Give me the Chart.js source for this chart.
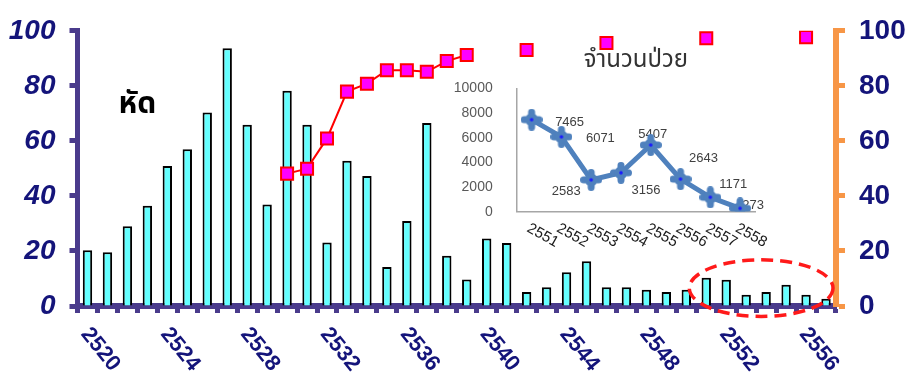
<!DOCTYPE html>
<html>
<head>
<meta charset="utf-8">
<script src="https://cdn.jsdelivr.net/npm/chart.js@4/dist/chart.umd.min.js"></script>
<style>
  html, body { margin: 0; padding: 0; background: #ffffff; }
  #wrap { position: relative; width: 911px; height: 382px; overflow: hidden; }
  #main { position: absolute; left: 0; top: 0; }
  #inset { position: absolute; left: 430px; top: 40px; }
</style>
</head>
<body>
<div id="wrap">
  <canvas id="main" width="911" height="382"></canvas>
  <canvas id="inset" width="350" height="215"></canvas>
</div>
<script>
// Years (Buddhist era) on the main category axis
const years = ['2520','2521','2522','2523','2524','2525','2526','2527','2528','2529',
               '2530','2531','2532','2533','2534','2535','2536','2537','2538','2539',
               '2540','2541','2542','2543','2544','2545','2546','2547','2548','2549',
               '2550','2551','2552','2553','2554','2555','2556','2557'];

// Measles rate (bars, left axis)
const measlesRate = [20.3, 19.5, 29.0, 36.4, 50.9, 57.0, 70.3, 93.7, 65.9, 36.9,
                     78.2, 65.9, 23.1, 52.8, 47.2, 14.2, 30.9, 66.5, 18.3, 9.6,
                     24.5, 22.9, 5.1, 6.8, 12.3, 16.3, 6.8, 6.8, 5.9, 5.1,
                     5.9, 10.3, 9.5, 4.1, 5.1, 7.7, 4.1, 2.6];

// Vaccine coverage, % (squares, right axis); null where not reported
const coverage = [null, null, null, null, null, null, null, null, null, null,
                  48.1, 49.9, 60.9, 77.9, 80.8, 85.7, 85.7, 85.1, 89.0, 91.2,
                  null, null, 93.0, null, null, null, 95.6, null, null, null,
                  null, 97.3, null, null, null, null, 97.7, null];

// Year labels printed under the main axis
const yearTicks = ['2520','2524','2528','2532','2536','2540','2544','2548','2552','2556'];

// Inset: number of cases per year
const insetYears = ['2551','2552','2553','2554','2555','2556','2557','2558'];
const insetCases = [7465, 6071, 2583, 3156, 5407, 2643, 1171, 273];

const mainTitle = 'หัด';
const insetTitle = 'จำนวนป่วย';

const NAVY = '#14147A';
const PURPLE = '#4A3B8C';
const ORANGE = '#F79646';
const SANS = "'Liberation Sans', Arial, sans-serif";
const THAI = "'Noto Sans Thai', 'Loma', 'Garuda', 'Tlwg Typo', 'Noto Sans', sans-serif";

// Rotated year labels, dashed highlight ellipse and the disease name
const mainDecor = {
  id: 'mainDecor',
  afterDraw(chart) {
    const ctx = chart.ctx;
    const xs = chart.scales.x;
    const ys = chart.scales.y;
    const area = chart.chartArea;

    ctx.save();
    ctx.fillStyle = NAVY;
    ctx.font = 'bold 22px ' + SANS;
    ctx.textAlign = 'left';
    ctx.textBaseline = 'middle';
    yearTicks.forEach(label => {
      const x = xs.getPixelForValue(years.indexOf(label));
      ctx.save();
      ctx.translate(x - 2.5, area.bottom + 24.5);
      ctx.rotate(51 * Math.PI / 180);
      ctx.fillText(label, 0, 0);
      ctx.restore();
    });
    ctx.restore();

    // disease name
    ctx.save();
    ctx.fillStyle = '#000000';
    ctx.font = 'bold 30px ' + THAI;
    ctx.textAlign = 'center';
    ctx.textBaseline = 'middle';
    ctx.fillText(mainTitle, xs.getPixelForValue(2.5), ys.getPixelForValue(72.5));
    ctx.restore();

    // dashed ellipse around the recent low years
    const cx = xs.getPixelForValue(33.75);
    const cy = ys.getPixelForValue(6.5);
    const rx = (xs.getPixelForValue(1) - xs.getPixelForValue(0)) * 3.6;
    const ry = ys.getPixelForValue(0) - ys.getPixelForValue(10.3);
    ctx.save();
    ctx.strokeStyle = '#FF1A1A';
    ctx.lineWidth = 3.5;
    ctx.setLineDash([12, 7]);
    ctx.beginPath();
    ctx.ellipse(cx, cy, rx, ry, 0, 0, Math.PI * 2);
    ctx.stroke();
    ctx.restore();
  }
};

new Chart(document.getElementById('main'), {
  data: {
    labels: years,
    datasets: [
      {
        type: 'line',
        data: coverage,
        yAxisID: 'y2',
        borderColor: '#FF0000',
        borderWidth: 2,
        pointStyle: 'rect',
        pointRadius: 8.5,
        pointBackgroundColor: '#FF00FF',
        pointBorderColor: '#FF0000',
        pointBorderWidth: 2,
        spanGaps: false,
        tension: 0,
        order: 1
      },
      {
        type: 'bar',
        data: measlesRate,
        yAxisID: 'y',
        backgroundColor: '#66FFFF',
        borderColor: '#000000',
        borderWidth: 2,
        barPercentage: 0.47,
        categoryPercentage: 1,
        order: 2
      }
    ]
  },
  options: {
    responsive: false,
    animation: false,
    devicePixelRatio: 1,
    layout: { padding: { top: 23.5, left: 0, right: 0, bottom: 0 } },
    plugins: { legend: { display: false }, tooltip: { enabled: false } },
    scales: {
      x: {
        type: 'category',
        offset: true,
        grid: { offset: true, drawOnChartArea: false, drawTicks: true, tickLength: 7,
                tickWidth: 5, color: PURPLE, tickColor: PURPLE },
        border: { color: PURPLE, width: 6 },
        ticks: { display: false },
        afterFit(s) { s.height = 76; }
      },
      y: {
        position: 'left',
        min: 0, max: 100,
        ticks: { stepSize: 20, padding: 14, color: NAVY,
                 font: { family: SANS, size: 28, weight: 'bold', style: 'italic' } },
        grid: { drawOnChartArea: false, tickLength: 8, tickWidth: 5, color: PURPLE, tickColor: PURPLE },
        border: { color: PURPLE, width: 5 },
        afterFit(s) { s.width = 77.5; }
      },
      y2: {
        position: 'right',
        min: 0, max: 100,
        ticks: { stepSize: 20, padding: 14, color: NAVY,
                 font: { family: SANS, size: 28, weight: 'bold' } },
        grid: { drawOnChartArea: false, tickLength: 9, tickWidth: 5, color: ORANGE, tickColor: ORANGE },
        border: { color: ORANGE, width: 6 },
        afterFit(s) { s.width = 75; }
      }
    }
  },
  plugins: [mainDecor]
});

// Marker for the inset line: chunky blue cross with a bright centre dot
const marker = document.createElement('canvas');
marker.width = 22; marker.height = 22;
(function () {
  const c = marker.getContext('2d');
  c.strokeStyle = '#4F81BD';
  c.lineWidth = 7;
  c.lineCap = 'round';
  c.beginPath();
  c.moveTo(11, 3.5); c.lineTo(11, 18.5);
  c.moveTo(3.5, 11); c.lineTo(18.5, 11);
  c.stroke();
  c.fillStyle = '#4F81BD';
  c.beginPath(); c.arc(11, 11, 6.5, 0, Math.PI * 2); c.fill();
  c.fillStyle = '#1a1aff';
  c.beginPath(); c.arc(11, 11, 1.8, 0, Math.PI * 2); c.fill();
})();

// Where each value label sits relative to its point
const labelOffsets = [[38, 3], [39, 2], [-25, 12], [25, 18], [2, -11], [23, -21], [23, -13], [13, -3]];

const insetDecor = {
  id: 'insetDecor',
  beforeDatasetsDraw(chart) {
    const ctx = chart.ctx;
    const pts = chart.getDatasetMeta(0).data;
    ctx.save();
    ctx.fillStyle = '#404040';
    ctx.font = '13px ' + SANS;
    ctx.textAlign = 'center';
    ctx.textBaseline = 'middle';
    insetCases.forEach((v, i) => {
      const [dx, dy] = labelOffsets[i];
      ctx.fillText(String(v), pts[i].x + dx, pts[i].y + dy);
    });
    ctx.restore();
  },
  afterDraw(chart) {
    const ctx = chart.ctx;
    const xs = chart.scales.x;
    const area = chart.chartArea;
    ctx.save();
    ctx.fillStyle = '#1a1a1a';
    ctx.font = '15px ' + SANS;
    ctx.textAlign = 'left';
    ctx.textBaseline = 'middle';
    insetYears.forEach((label, i) => {
      const x = xs.getPixelForValue(i);
      ctx.save();
      ctx.translate(x - 3.5, area.bottom + 15.7);
      ctx.rotate(29 * Math.PI / 180);
      ctx.fillText(label, 0, 0);
      ctx.restore();
    });
    ctx.restore();
  }
};

new Chart(document.getElementById('inset'), {
  type: 'line',
  data: {
    labels: insetYears,
    datasets: [{
      data: insetCases,
      borderColor: '#4F81BD',
      borderWidth: 5,
      pointStyle: marker,
      pointRadius: 10,
      tension: 0
    }]
  },
  options: {
    responsive: false,
    animation: false,
    devicePixelRatio: 1,
    layout: { padding: { left: 0, right: 25, top: 0, bottom: 0 } },
    plugins: {
      legend: { display: false },
      tooltip: { enabled: false },
      title: {
        display: true,
        text: insetTitle,
        fullSize: false,
        color: '#333333',
        font: { family: THAI, size: 24, weight: 'normal', lineHeight: 1.2 },
        padding: { top: 7.6, bottom: 12 }
      }
    },
    scales: {
      x: {
        offset: true,
        grid: { display: false },
        border: { color: '#A6A6A6', width: 1.5 },
        ticks: { display: false },
        afterFit(s) { s.height = 43.3; }
      },
      y: {
        min: 0, max: 10000,
        ticks: { stepSize: 2000, padding: 16, color: '#595959',
                 font: { family: SANS, size: 14 },
                 callback: v => String(v) },
        grid: { display: false },
        border: { color: '#A6A6A6', width: 1.5 },
        afterFit(s) { s.width = 86.7; }
      }
    }
  },
  plugins: [insetDecor]
});
</script>
</body>
</html>
